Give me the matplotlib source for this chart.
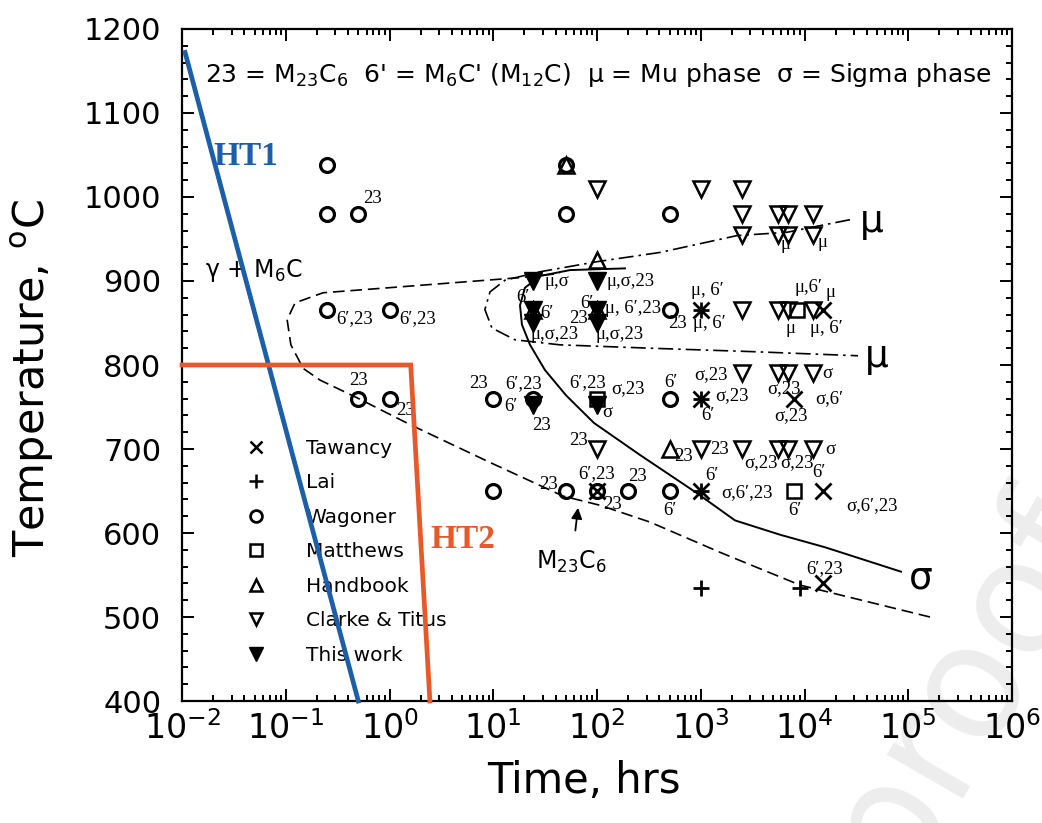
import matplotlib
matplotlib.use("Agg")
import matplotlib.pyplot as plt
from matplotlib.lines import Line2D
from matplotlib.ticker import LogLocator, MultipleLocator, NullFormatter

plt.rcParams["font.family"] = ["DejaVu Sans"]
plt.rcParams["mathtext.fontset"] = "dejavusans"

SERIF = ["Liberation Serif", "DejaVu Serif"]

# --- heat-treatment paths -------------------------------------------------
ht1_t = [0.0107, 0.5]
ht1_T = [1172, 400]
ht2_t = [0.01, 1.6, 2.45]
ht2_T = [800, 800, 400]

# --- phase boundaries -----------------------------------------------------
m23c6_t = [1.62e5, 9060, 1535, 324, 107, 47, 9.3, 1.58, 0.486, 0.214, 0.147,
           0.112, 0.103, 0.123, 0.229, 1.26, 18.1, 44]
m23c6_T = [500, 538, 577, 613, 633, 644, 684, 729, 761, 782, 796,
           824, 854, 874, 886, 893, 904, 909]

sigma_t = [186, 55, 28.3, 20.2, 18.1, 18.9, 22.6, 31.5, 50.2, 93.5, 259,
           881, 2140, 5800, 15800, 85100]
sigma_T = [915, 913, 906, 892, 871, 848, 824, 794, 764, 731, 693,
           649, 615, 598, 583, 554]

mu_t = [27500, 6780, 2230, 405, 100, 28.3, 13.0, 9.3, 8.3, 9.7, 16.2,
        44, 324, 2990, 32800]
mu_T = [973, 958, 954, 934, 923, 911, 901, 887, 866, 844, 830,
        824, 820, 816, 811]

# --- aging data by source -------------------------------------------------
tawancy_t = [15000, 8000, 1000, 1000, 1000, 15000, 15000, 100]
tawancy_T = [865, 760, 865, 760, 650, 650, 540, 650]

lai_t = [1000, 1000, 1000, 1000, 9000]
lai_T = [865, 760, 650, 535, 535]

wagoner_t = [0.25, 0.25, 0.5, 0.25, 1, 0.5, 1, 10, 10, 50, 50, 500, 500,
             500, 500, 200, 100, 24, 50]
wagoner_T = [1038, 980, 980, 865, 865, 760, 760, 760, 650, 650, 980, 980,
             865, 760, 650, 650, 650, 760, 1038]

matthews_t = [8500, 8000, 100]
matthews_T = [865, 650, 760]

handbook_t = [50, 100, 500, 24, 100]
handbook_T = [1038, 925, 700, 865, 865]

clarke_t = [100, 1000, 2500, 2500, 5500, 7000, 12000, 2500, 5500, 7000,
            12000, 2500, 5500, 7000, 12000, 2500, 5500, 7000, 12000, 100,
            1000, 2500, 5500, 7000, 12000]
clarke_T = [1010, 1010, 1010, 980, 980, 980, 980, 955, 955, 955,
            955, 865, 865, 865, 865, 790, 790, 790, 790, 700,
            700, 700, 700, 700, 700]

thiswork_t = [24, 100, 24, 24, 100, 100, 24, 100]
thiswork_T = [900, 900, 865, 850, 865, 850, 752, 752]

# phases found at each point: (time, temperature, phases)
notes = [
    (0.5, 980, "23"), (0.25, 865, "6′,23"), (1, 865, "6′,23"),
    (0.5, 760, "23"), (1, 760, "23"), (10, 760, "23"),
    (24, 760, "6′,23"), (24, 760, "6′"), (24, 760, "23"),
    (100, 760, "6′,23"), (100, 760, "σ,23"), (100, 760, "σ"),
    (500, 760, "6′"), (1000, 760, "σ,23"), (1000, 760, "6′"),
    (2500, 790, "σ,23"), (8000, 760, "σ,23"), (8000, 760, "σ,6′"),
    (8000, 760, "σ,23"), (12000, 790, "σ"),
    (100, 700, "23"), (500, 700, "23"), (1000, 700, "23"),
    (2500, 700, "σ,23"), (7000, 700, "σ,23"), (12000, 700, "σ"),
    (50, 650, "23"), (100, 650, "6′,23"), (100, 650, "23"),
    (200, 650, "23"), (500, 650, "6′"), (1000, 650, "6′"),
    (1000, 650, "σ,6′,23"), (8000, 650, "6′"), (15000, 650, "6′"),
    (15000, 650, "σ,6′,23"), (15000, 540, "6′,23"),
    (24, 900, "μ,σ"), (100, 900, "μ,σ,23"),
    (24, 865, "6′"), (24, 865, "6′"), (24, 850, "μ,σ,23"),
    (100, 865, "6′"), (100, 865, "23"), (100, 865, "μ, 6′,23"),
    (100, 850, "μ,σ,23"), (500, 865, "23"),
    (1000, 865, "μ, 6′"), (1000, 865, "μ, 6′"),
    (8500, 865, "μ,6′"), (15000, 865, "μ"), (8500, 865, "μ"),
    (15000, 865, "μ, 6′"), (7000, 955, "μ"), (12000, 955, "μ"),
]
# where each note sits relative to its point, in pixels (right, up)
note_offsets = [
    (14, 15), (28, -8), (28, -8),
    (0, 18), (16, -12), (-15, 15),
    (-9, 15), (-22, -8), (9, -27),
    (-9, 16), (31, 10), (10, -14),
    (1, 16), (31, 3), (7, -17),
    (-31, -1), (-10, 10), (35, 0),
    (-3, -17), (15, 0),
    (-19, 9), (14, -7), (19, 0),
    (19, -14), (9, -14), (18, 0),
    (-17, 7), (0, 17), (15, -13),
    (9, 15), (0, -19), (11, 16),
    (46, -2), (0, -19), (-4, 19),
    (49, -15), (2, 15),
    (24, -1), (34, -1),
    (-10, 13), (14, -3), (22, -12),
    (-10, 7), (-19, -8), (36, 2),
    (23, -12), (8, -13),
    (7, 20), (9, -13),
    (11, 23), (8, 18), (-7, -18),
    (4, -18), (-3, -10), (10, -8),
]

fig = plt.figure(figsize=(10.42, 8.23), dpi=100)
ax = fig.add_axes([0.1747, 0.1482, 0.7965, 0.8166])
ax.patch.set_alpha(0)
ax.set_xscale("log")
ax.set_xlim(1e-2, 1e6)
ax.set_ylim(400, 1200)

# faint stamp behind the chart
fig.text(0.925, 0.17, "proof", rotation=60, fontsize=115, color="#ededed",
         ha="center", va="center", zorder=-1)

# boundaries
ax.plot(m23c6_t, m23c6_T, color="k", lw=1.2, dashes=(7, 3.5), zorder=2)
ax.plot(sigma_t, sigma_T, color="k", lw=1.4, zorder=2)
ax.plot(mu_t, mu_T, color="k", lw=1.2, dashes=(9, 3, 1.5, 3), zorder=2)

# data points
open_kw = dict(ls="none", mfc="none", mec="k", zorder=4)
ax.plot(wagoner_t, wagoner_T, marker="o", ms=10, mew=2.3, **open_kw)
ax.plot(matthews_t, matthews_T, marker="s", ms=9.5, mew=1.8, **open_kw)
ax.plot(handbook_t, handbook_T, marker="^", ms=11, mew=1.8, **open_kw)
ax.plot(clarke_t, clarke_T, marker="v", ms=11, mew=1.8, **open_kw)
ax.plot(tawancy_t, tawancy_T, marker="x", ms=11, mew=2, color="k",
        ls="none", zorder=4)
ax.plot(lai_t, lai_T, marker="+", ms=12, mew=2, color="k", ls="none",
        zorder=4)
ax.plot(thiswork_t, thiswork_T, marker="v", ms=13, color="k", ls="none",
        zorder=3)

for (t, T, txt), (dx, dy) in zip(notes, note_offsets):
    ax.annotate(txt, (t, T), xytext=(dx, dy), textcoords="offset pixels",
                ha="center", va="center", fontsize=13.5, family=SERIF,
                zorder=5)

# heat treatment paths
ax.plot(ht1_t, ht1_T, color="#1c5ea8", lw=3.4, zorder=6, clip_on=False)
ax.plot(ht2_t, ht2_T, color="#e8592a", lw=3.4, zorder=6, clip_on=False,
        solid_joinstyle="miter")
ax.text(0.038, 0.81, "HT1", transform=ax.transAxes, color="#1c5ea8",
        fontsize=24, fontweight="bold", family=SERIF, va="center")
ax.text(0.299, 0.241, "HT2", transform=ax.transAxes, color="#e8592a",
        fontsize=24, fontweight="bold", family=SERIF, va="center")

# boundary names
ax.text(4.48e4, 970, "μ", fontsize=27, ha="center", va="center")
ax.text(5.0e4, 809, "μ", fontsize=27, ha="center", va="center")
ax.text(1.33e5, 546, "σ", fontsize=27, ha="center", va="center")
ax.annotate("M$_{23}$C$_6$", xy=(65.6, 630), xytext=(57, 566),
            ha="center", va="center", fontsize=17,
            arrowprops=dict(arrowstyle="-|>", color="k", lw=1.3,
                            mutation_scale=16, shrinkA=11, shrinkB=0))

ax.text(0.028, 0.932,
        "23 = M$_{23}$C$_6$  6' = M$_6$C' (M$_{12}$C)  μ = Mu phase  "
        "σ = Sigma phase", transform=ax.transAxes, fontsize=18,
        va="center")
ax.text(0.028, 0.641, "γ + M$_6$C", transform=ax.transAxes, fontsize=17,
        va="center")

# legend
handles = [
    Line2D([], [], ls="none", marker="x", ms=9, mew=1.8, color="k"),
    Line2D([], [], ls="none", marker="+", ms=10, mew=1.8, color="k"),
    Line2D([], [], ls="none", marker="o", ms=8.5, mew=2, mfc="none", mec="k"),
    Line2D([], [], ls="none", marker="s", ms=9, mew=1.8, mfc="none", mec="k"),
    Line2D([], [], ls="none", marker="^", ms=9, mew=1.8, mfc="none", mec="k"),
    Line2D([], [], ls="none", marker="v", ms=9, mew=1.8, mfc="none", mec="k"),
    Line2D([], [], ls="none", marker="v", ms=10, color="k"),
]
labels = ["Tawancy", "Lai", "Wagoner", "Matthews", "Handbook",
          "Clarke & Titus", "This work"]
leg = ax.legend(handles, labels, loc="lower left",
                bbox_to_anchor=(0.065, 0.039), frameon=False,
                fontsize=14.5, handlelength=1.0, handletextpad=2.0,
                labelspacing=0.77, borderpad=0)
leg.set_zorder(3)

# axes styling
ax.xaxis.set_major_locator(LogLocator(base=10, numticks=20))
ax.xaxis.set_minor_locator(LogLocator(base=10, subs=range(2, 10), numticks=100))
ax.xaxis.set_minor_formatter(NullFormatter())
ax.yaxis.set_major_locator(MultipleLocator(100))
ax.yaxis.set_minor_locator(MultipleLocator(20))
ax.tick_params(which="both", direction="in", top=True, right=True,
               width=1.4, colors="k")
ax.tick_params(which="major", length=8.5)
ax.tick_params(which="minor", length=4.5)
ax.tick_params(axis="x", which="major", labelsize=24, pad=7)
ax.tick_params(axis="y", which="major", labelsize=22, pad=15)
for s in ax.spines.values():
    s.set_linewidth(1.6)

ax.set_xlabel("Time, hrs", fontsize=30)
ax.set_ylabel("Temperature, $^{\\mathrm{o}}$C", fontsize=31)
ax.xaxis.set_label_coords(0.484, -0.088)
ax.yaxis.set_label_coords(-0.152, 0.48)

fig.savefig("out.png", dpi=100)
